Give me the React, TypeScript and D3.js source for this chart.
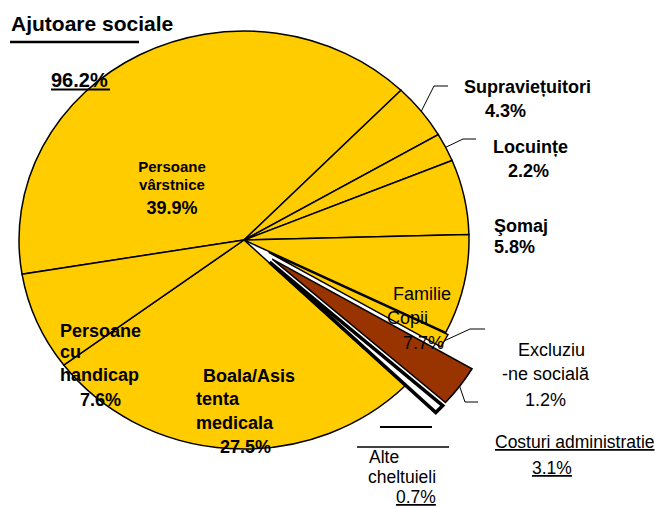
import React from "react";
import * as d3 from "d3";

// ---- data ----
const categories = [
  "Persoane vârstnice",
  "Supraviețuitori",
  "Locuințe",
  "Şomaj",
  "Familie Copii",
  "Excluziune socială",
  "Costuri administratie",
  "Alte cheltuieli",
  "Boala/Asistenta medicala",
  "Persoane cu handicap",
];
const values = [39.9, 4.3, 2.2, 5.8, 7.7, 1.2, 3.1, 0.7, 27.5, 7.6];
const groupTitle = "Ajutoare sociale";
const groupShare = 96.2;

// ---- layout / style ----
const W = 655;
const H = 508;
const CX = 244;
const CY = 240;
const R = 225;
const SY = 209 / 225;
const START_DEG = -99.4;
const FONT = "'Liberation Sans', Arial, Helvetica, sans-serif";

const YELLOW = "#FFCC00";
const BROWN = "#993300";

type SliceStyle = { fill: string; explode: number; radius: number; stroke: number };
const defaultStyle: SliceStyle = { fill: YELLOW, explode: 0, radius: R, stroke: 1.5 };
const specialStyle: Record<number, SliceStyle> = {
  5: { fill: YELLOW, explode: 28, radius: 200, stroke: 1.5 },
  6: { fill: BROWN, explode: 35, radius: 232, stroke: 1.5 },
  7: { fill: "#FFFFFF", explode: 35, radius: 232, stroke: 3.5 },
};
const styleOf = (i: number) => specialStyle[i] || defaultStyle;

const pct = (v: number) => `${v.toFixed(1)}%`;

type Line = { t: string; x: number; y: number; bold?: boolean; size: number; anchor?: string; underline?: boolean };

const labelLines = (): Line[] => [
  // Persoane vârstnice
  { t: "Persoane", x: 172, y: 172, bold: true, size: 15, anchor: "middle" },
  { t: "vârstnice", x: 172, y: 190, bold: true, size: 15, anchor: "middle" },
  { t: pct(values[0]), x: 172, y: 214, bold: true, size: 18, anchor: "middle" },
  // Supraviețuitori
  { t: "Supraviețuitori", x: 464, y: 93, bold: true, size: 18 },
  { t: pct(values[1]), x: 485, y: 117, bold: true, size: 18 },
  // Locuințe
  { t: "Locuințe", x: 493, y: 153, bold: true, size: 18 },
  { t: pct(values[2]), x: 508, y: 177, bold: true, size: 18 },
  // Şomaj
  { t: "Şomaj", x: 494, y: 232, bold: true, size: 18 },
  { t: pct(values[3]), x: 494, y: 253, bold: true, size: 18 },
  // Familie Copii
  { t: "Familie", x: 393, y: 300, size: 18 },
  { t: "Copii", x: 387, y: 324, size: 18 },
  { t: pct(values[4]), x: 403, y: 349, size: 18 },
  // Excluziune
  { t: "Excluziu", x: 518, y: 356, size: 18 },
  { t: "-ne socială", x: 502, y: 380, size: 18 },
  { t: pct(values[5]), x: 525, y: 406, size: 18 },
  // Costuri administratie
  { t: "Costuri administratie", x: 495, y: 448, size: 17.5, underline: true },
  { t: pct(values[6]), x: 532, y: 474, size: 17.5, underline: true },
  // Alte cheltuieli
  { t: "Alte", x: 369, y: 463, size: 17.5 },
  { t: "cheltuieli", x: 368, y: 483, size: 17.5 },
  { t: pct(values[7]), x: 396, y: 503, size: 17.5, underline: true },
  // Boala
  { t: "Boala/Asis", x: 203, y: 382, bold: true, size: 18 },
  { t: "tenta", x: 196, y: 405, bold: true, size: 18 },
  { t: "medicala", x: 196, y: 429, bold: true, size: 18 },
  { t: pct(values[8]), x: 220, y: 453, bold: true, size: 18 },
  // Persoane cu handicap
  { t: "Persoane", x: 60, y: 337, bold: true, size: 18 },
  { t: "cu", x: 60, y: 358, bold: true, size: 18 },
  { t: "handicap", x: 60, y: 381, bold: true, size: 18 },
  { t: pct(values[9]), x: 80, y: 406, bold: true, size: 18 },
];

export default function App() {
  const pie = d3
    .pie<number>()
    .sort(null)
    .value((d) => d)
    .startAngle((START_DEG * Math.PI) / 180)
    .endAngle(((START_DEG + 360) * Math.PI) / 180);
  const arcs = pie(values);

  const offsetOf = (i: number) => {
    const a = arcs[i];
    const mid = (a.startAngle + a.endAngle) / 2;
    const d = styleOf(i).explode;
    return [Math.sin(mid) * d, -Math.cos(mid) * d];
  };

  // point on a slice's outer edge at its middle angle, in screen coordinates
  const rimPoint = (i: number) => {
    const a = arcs[i];
    const mid = (a.startAngle + a.endAngle) / 2;
    const s = styleOf(i);
    const [ox, oy] = offsetOf(i);
    return [CX + ox + Math.sin(mid) * s.radius, CY + (oy - Math.cos(mid) * s.radius) * SY];
  };

  const order = arcs.map((_, i) => i).sort((a, b) => styleOf(a).explode - styleOf(b).explode);

  const leaders: { from: [number, number]; via: [number, number]; to: [number, number] }[] = [
    { from: rimPoint(1) as [number, number], via: [434, 86], to: [448, 86] },
    { from: rimPoint(2) as [number, number], via: [463, 139], to: [476, 139] },
    { from: rimPoint(5) as [number, number], via: [470, 329], to: [485, 329] },
    { from: rimPoint(6) as [number, number], via: [465, 402], to: [478, 402] },
  ];

  const lines = labelLines();

  return (
    <svg
      width={W}
      height={H}
      style={{ position: "absolute", left: 0, top: 0, background: "#fff" }}
      fontFamily={FONT}
    >
      <g transform={`translate(${CX},${CY}) scale(1,${SY})`}>
        {order.map((i) => {
          const s = styleOf(i);
          const arc = d3.arc<d3.PieArcDatum<number>>().innerRadius(0).outerRadius(s.radius);
          const [ox, oy] = offsetOf(i);
          return (
            <path
              key={categories[i]}
              d={arc(arcs[i]) || ""}
              transform={`translate(${ox},${oy})`}
              fill={s.fill}
              stroke="#000"
              strokeWidth={s.stroke}
              strokeLinejoin="miter"
              vectorEffect="non-scaling-stroke"
            />
          );
        })}
      </g>

      {leaders.map((l, k) => (
        <polyline
          key={k}
          points={`${l.from[0]},${l.from[1]} ${l.via[0]},${l.via[1]} ${l.to[0]},${l.to[1]}`}
          fill="none"
          stroke="#000"
          strokeWidth={1}
        />
      ))}

      {/* Alte cheltuieli guide lines */}
      <line x1={380} x2={432} y1={427} y2={427} stroke="#000" strokeWidth={2} />
      <line x1={357} x2={449} y1={447} y2={447} stroke="#000" strokeWidth={1.5} />

      {/* title */}
      <text x={11} y={31} fontSize={21} fontWeight="bold" fill="#000">
        {groupTitle}
      </text>
      <line x1={10} x2={139} y1={42} y2={42} stroke="#000" strokeWidth={2.5} />
      <text x={51} y={87} fontSize={20} fontWeight="bold" fill="#000">
        {pct(groupShare)}
      </text>
      <line x1={51} x2={110} y1={89.5} y2={89.5} stroke="#000" strokeWidth={2} />

      {lines.map((l, k) => (
        <text
          key={k}
          x={l.x}
          y={l.y}
          fontSize={l.size}
          fontWeight={l.bold ? "bold" : "normal"}
          textAnchor={l.anchor || "start"}
          textDecoration={l.underline ? "underline" : undefined}
          fill="#000"
        >
          {l.t}
        </text>
      ))}
    </svg>
  );
}
